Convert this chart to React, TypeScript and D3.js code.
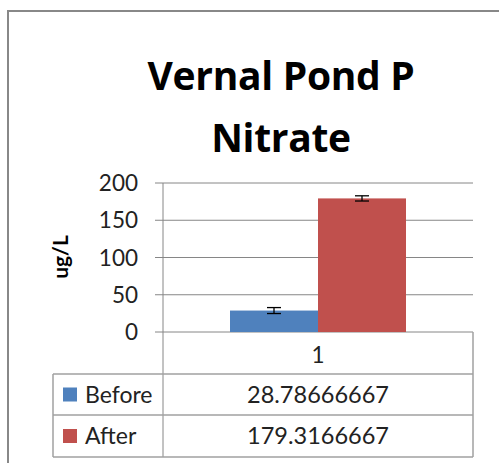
import React from "react";
import * as d3 from "d3";

const categories = ["1"];
const seriesNames = ["Before", "After"];
const seriesValues = [28.78666667, 179.3166667];
const seriesErrors = [4, 3.5];
const seriesLabels = ["28.78666667", "179.3166667"];
const seriesColors = ["#4F81BD", "#C0504D"];
const yTicks = [0, 50, 100, 150, 200];
const titleLines = ["Vernal Pond P", "Nitrate"];
const yAxisTitle = "ug/L";

const FONT = "Lato, 'Open Sans', sans-serif";
const TITLE_FONT = "'Open Sans', Lato, sans-serif";

export default function App() {
  const W = 499, H = 463;
  const plotL = 163, plotR = 473, plotT = 183, plotB = 332;
  const tableL = 53;
  const rowYs = [374, 415, 457];

  const y = d3.scaleLinear().domain([0, 200]).range([plotB, plotT]);
  const x0 = d3.scaleBand().domain(categories).range([plotL, plotR]).paddingOuter(0.3807).paddingInner(0);
  const x1 = d3.scaleBand().domain(seriesNames).range([0, x0.bandwidth()]).padding(0);

  const gridColor = "#868686";
  const tableColor = "#a0a0a0";

  return (
    <svg width={W} height={H} style={{ display: "block", position: "absolute", left: 0, top: 0 }}>
      <rect x={0} y={0} width={W} height={H} fill="#fff" />
      <rect x={8} y={11} width={700} height={600} fill="#fff" stroke="#888" strokeWidth={2} />
      {titleLines.map((t, i) => (
        <text key={t} x={281} y={90 + i * 62} textAnchor="middle" fontFamily={TITLE_FONT} fontWeight="bold" fontSize={39} letterSpacing={-0.3} fill="#000">
          {t}
        </text>
      ))}
      {yTicks.map((t) => (
        <g key={t}>
          <line x1={plotL - 8} x2={plotR} y1={y(t)} y2={y(t)} stroke={gridColor} strokeWidth={1} />
          <text x={138} y={y(t)} dy="0.36em" textAnchor="end" fontFamily={FONT} fontSize={22.5} fill="#222">
            {t}
          </text>
        </g>
      ))}
      {categories.map((c) => (
        <g key={c} transform={`translate(${x0(c)},0)`}>
          {seriesNames.map((s, i) => {
            const bx = x1(s)!;
            const bw = x1.bandwidth();
            const v = seriesValues[i];
            const e = seriesErrors[i];
            const cx = bx + bw / 2;
            return (
              <g key={s}>
                <rect x={bx} y={y(v)} width={bw} height={plotB - y(v)} fill={seriesColors[i]} />
                <line x1={cx} x2={cx} y1={y(v + e)} y2={y(v - e)} stroke="#000" strokeWidth={1.3} />
                <line x1={cx - 7} x2={cx + 7} y1={y(v + e)} y2={y(v + e)} stroke="#000" strokeWidth={1.3} />
                <line x1={cx - 7} x2={cx + 7} y1={y(v - e)} y2={y(v - e)} stroke="#000" strokeWidth={1.3} />
              </g>
            );
          })}
        </g>
      ))}
      <line x1={plotL} x2={plotL} y1={plotT} y2={rowYs[2]} stroke={gridColor} strokeWidth={1} />
      <line x1={plotR} x2={plotR} y1={plotB} y2={rowYs[2]} stroke={tableColor} strokeWidth={1.5} />
      {rowYs.map((ry) => (
        <line key={ry} x1={tableL} x2={plotR} y1={ry} y2={ry} stroke={tableColor} strokeWidth={1.5} />
      ))}
      <line x1={tableL} x2={tableL} y1={rowYs[0]} y2={rowYs[2]} stroke={tableColor} strokeWidth={1.5} />
      {categories.map((c) => (
        <text key={c} x={x0(c)! + x0.bandwidth() / 2} y={355} dy="0.36em" textAnchor="middle" fontFamily={FONT} fontSize={22.5} fill="#222">
          {c}
        </text>
      ))}
      {seriesNames.map((s, i) => {
        const cy = (rowYs[i] + rowYs[i + 1]) / 2;
        return (
          <g key={s}>
            <rect x={63} y={cy - 7} width={14} height={14} fill={seriesColors[i]} />
            <text x={85} y={cy} dy="0.36em" fontFamily={FONT} fontSize={23} fill="#222">
              {s}
            </text>
            <text x={318} y={cy} dy="0.36em" textAnchor="middle" fontFamily={FONT} fontSize={23.5} fill="#222">
              {seriesLabels[i]}
            </text>
          </g>
        );
      })}
      <text transform={`translate(60,257) rotate(-90)`} textAnchor="middle" dy="0.36em" fontFamily={FONT} fontWeight="bold" fontSize={21} fill="#000">
        {yAxisTitle}
      </text>
    </svg>
  );
}
